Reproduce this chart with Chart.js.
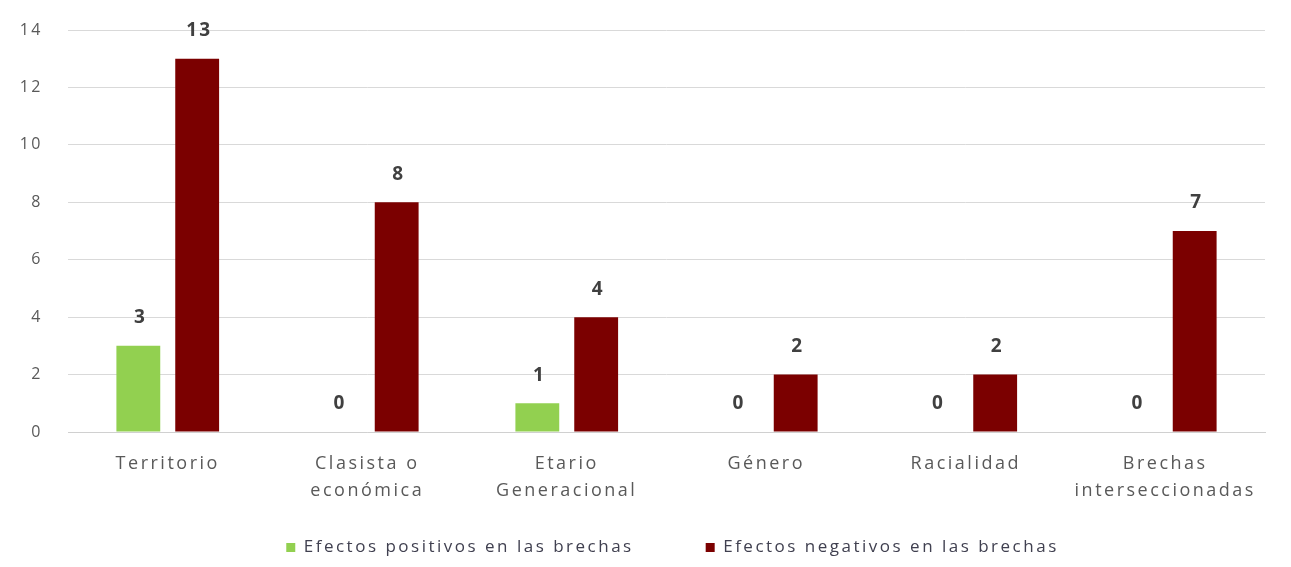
<!DOCTYPE html>
<html>
<head>
<meta charset="utf-8">
<script src="https://cdn.jsdelivr.net/npm/chart.js@4.4.1/dist/chart.umd.min.js"></script>
<style>
  html, body { margin: 0; padding: 0; background: #ffffff; }
  #wrap { width: 1291px; height: 567px; position: relative; }
</style>
</head>
<body>
<div id="wrap"><canvas id="c"></canvas></div>
<script>
const categories = [
  ['Territorio'],
  ['Clasista o', 'económica'],
  ['Etario', 'Generacional'],
  ['Género'],
  ['Racialidad'],
  ['Brechas', 'interseccionadas']
];
const positiveLabel = 'Efectos positivos en las brechas';
const negativeLabel = 'Efectos negativos en las brechas';
const positiveValues = [3, 0, 1, 0, 0, 0];
const negativeValues = [13, 8, 4, 2, 2, 7];
const yTicks = [0, 2, 4, 6, 8, 10, 12, 14];

const FONT = "'Open Sans', 'DejaVu Sans', sans-serif";
const SPACING = '2.5px';
const LEGEND_GAP = 72;

// wide tracking for every text drawn on the canvas
const trackingPlugin = {
  id: 'tracking',
  afterInit(chart) {
    chart.ctx.letterSpacing = SPACING;
    // keep the legend box short so its row sits close under the axis labels
    const legend = chart.legend;
    if (legend) {
      const fit = legend.fit;
      legend.fit = function () {
        fit.call(this);
        this.height = 100;
      };
    }
  },
  afterLayout(chart) {
    const legend = chart.legend;
    if (legend) {
      legend.left += 36;
      legend.right += 36;
    }
  },
  beforeUpdate(chart) { chart.ctx.letterSpacing = SPACING; },
  beforeDraw(chart) { chart.ctx.letterSpacing = SPACING; }
};

// value labels above each bar
const valueLabels = {
  id: 'valueLabels',
  afterDatasetsDraw(chart) {
    const ctx = chart.ctx;
    ctx.save();
    ctx.letterSpacing = '2px';
    ctx.font = "bold 19px " + FONT;
    ctx.fillStyle = '#404040';
    ctx.textAlign = 'center';
    ctx.textBaseline = 'middle';
    chart.data.datasets.forEach((ds, i) => {
      const meta = chart.getDatasetMeta(i);
      meta.data.forEach((bar, j) => {
        ctx.fillText(String(ds.data[j]), bar.x + 2, bar.y - 28);
      });
    });
    ctx.restore();
  }
};

new Chart(document.getElementById('c'), {
  type: 'bar',
  data: {
    labels: categories,
    datasets: [
      {
        label: positiveLabel,
        data: positiveValues,
        backgroundColor: '#92D050',
        categoryPercentage: 0.59,
        barPercentage: 0.745
      },
      {
        label: negativeLabel,
        data: negativeValues,
        backgroundColor: '#7B0000',
        categoryPercentage: 0.59,
        barPercentage: 0.745
      }
    ]
  },
  options: {
    responsive: true,
    maintainAspectRatio: false,
    animation: false,
    layout: { padding: { left: 8, right: 26, top: 30, bottom: 0 } },
    plugins: {
      legend: {
        position: 'bottom',
        labels: {
          boxWidth: 9,
          boxHeight: 9,
          padding: LEGEND_GAP,
          color: '#404050',
          font: { family: FONT, size: 17 }
        }
      },
      tooltip: { enabled: false }
    },
    scales: {
      x: {
        grid: { display: false, drawTicks: false },
        border: { color: '#d0d0d0', width: 1 },
        ticks: {
          color: '#595959',
          padding: 18,
          maxRotation: 0,
          autoSkip: false,
          font: { family: FONT, size: 18, lineHeight: 1.5 }
        },
        afterFit(scale) {
          scale.height = 35;
          // category labels run below the short axis box, so draw them unclipped
          scale._computeLabelArea = () => undefined;
        }
      },
      y: {
        min: 0,
        max: 14,
        afterBuildTicks(scale) { scale.ticks = yTicks.map(v => ({ value: v })); },
        grid: { color: '#d9d9d9', drawTicks: false },
        border: { display: false },
        ticks: {
          color: '#595959',
          padding: 25,
          font: { family: FONT, size: 16 }
        },
        afterFit(scale) {
          scale.width = 60;
          scale.paddingTop = 10;
          scale.paddingBottom = 10;
        }
      }
    }
  },
  plugins: [trackingPlugin, valueLabels]
});
</script>
</body>
</html>
